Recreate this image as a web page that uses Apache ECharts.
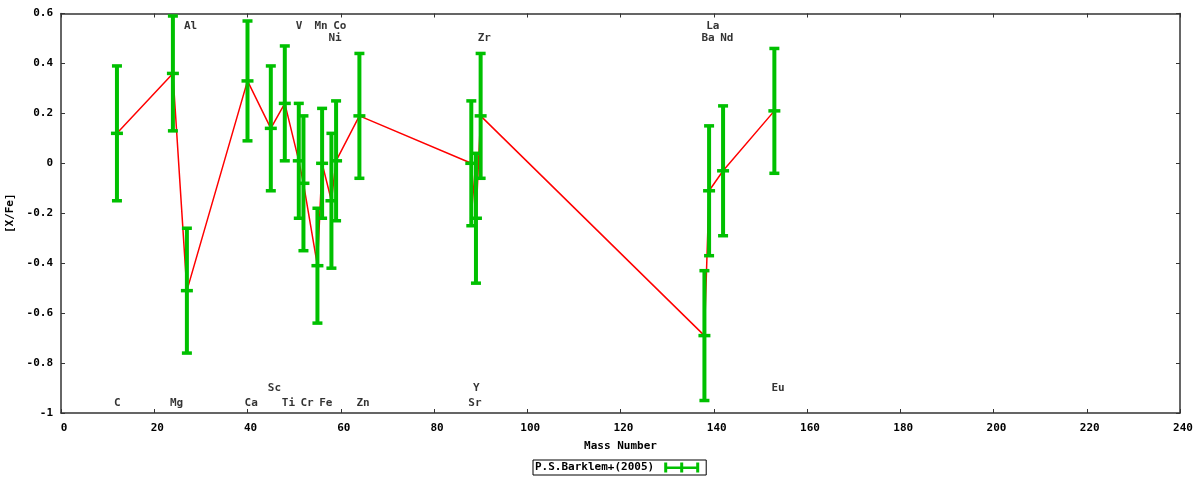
<!DOCTYPE html>
<html>
<head>
<meta charset="utf-8">
<script src="https://cdn.jsdelivr.net/npm/echarts@6/dist/echarts.min.js"></script>
<style>
  html, body { margin: 0; padding: 0; background: #fff; }
  #main { width: 1200px; height: 480px; }
</style>
</head>
<body>
<div id="main"></div>
<script>
// element data
const elements    = ['C', 'Mg', 'Al', 'Ca', 'Sc', 'Ti', 'V', 'Cr', 'Mn', 'Fe', 'Ni', 'Co', 'Zn', 'Sr', 'Y', 'Zr', 'Ba', 'La', 'Nd', 'Eu'];
const massNumbers = [12, 24, 27, 40, 45, 48, 51, 52, 55, 56, 58, 59, 64, 88, 89, 90, 138, 139, 142, 153];
const xFe         = [0.12, 0.36, -0.51, 0.33, 0.14, 0.24, 0.01, -0.08, -0.41, 0.00, -0.15, 0.01, 0.19, 0.00, -0.22, 0.19, -0.69, -0.11, -0.03, 0.21];
const xFeErr      = [0.27, 0.23, 0.25, 0.24, 0.25, 0.23, 0.23, 0.27, 0.23, 0.22, 0.27, 0.24, 0.25, 0.25, 0.26, 0.25, 0.26, 0.26, 0.26, 0.25];
// height at which each element name is written
const labelY      = [-0.96, -0.96, 0.55, -0.96, -0.9, -0.96, 0.55, -0.96, 0.55, -0.96, 0.5, 0.55, -0.96, -0.96, -0.9, 0.5, 0.5, 0.55, 0.5, -0.9];
const xTicks = { min: 0, max: 240, step: 20 };
const yTicks = { min: -1, max: 0.6, step: 0.2 };
const seriesName = 'P.S.Barklem+(2005)';

const FONT = 'DejaVu Sans Mono';
const GREEN = '#00c000';

const lineData = massNumbers.map((m, i) => [m, xFe[i]]);
const barData = massNumbers.map((m, i) => [m, xFe[i], xFe[i] - xFeErr[i], xFe[i] + xFeErr[i]]);
const labelData = elements.map((el, i) => ({ name: el, value: [massNumbers[i], labelY[i]] }));

function renderErrorBar(params, api) {
  const x = api.value(0);
  const mid = api.coord([x, api.value(1)]);
  const lo = api.coord([x, api.value(2)]);
  const hi = api.coord([x, api.value(3)]);
  const half = 5;
  const bar = { stroke: GREEN, lineWidth: 4 };
  const cap = { stroke: GREEN, lineWidth: 3.5 };
  const capAt = (y, h) => ({ type: 'line', shape: { x1: mid[0] - h, y1: y, x2: mid[0] + h, y2: y }, style: cap });
  return {
    type: 'group',
    children: [
      { type: 'line', shape: { x1: mid[0], y1: hi[1], x2: mid[0], y2: lo[1] }, style: bar },
      capAt(hi[1], half),
      capAt(lo[1], half),
      capAt(mid[1], half + 1)
    ]
  };
}

const axisCommon = {
  axisLine: { show: true, onZero: false, lineStyle: { color: '#333', width: 1.5 } },
  axisTick: { show: true, inside: true, length: 4, lineStyle: { color: '#333', width: 1 } },
  splitLine: { show: false }
};
const labelFont = { fontFamily: FONT, fontWeight: 'bold', fontSize: 11, color: '#000' };

const chart = echarts.init(document.getElementById('main'));
const option = {
  animation: false,
  backgroundColor: '#fff',
  grid: { left: 61, right: 20, top: 13.5, bottom: 67, outerBoundsMode: 'none' },
  legend: {
    data: [seriesName],
    left: 533,
    bottom: 5,
    align: 'right',
    itemWidth: 35,
    itemHeight: 10,
    padding: [2, 7, 2, 2],
    borderColor: '#000',
    borderWidth: 1,
    borderRadius: 0,
    icon: 'path://M0,4H35V6.5H0Z M0,0H3V10H0Z M32,0H35V10H32Z M16,0H19V10H16Z',
    textStyle: Object.assign({ padding: [0, 5, 0, 0] }, labelFont)
  },
  xAxis: [
    Object.assign({
      type: 'value', position: 'bottom',
      min: xTicks.min, max: xTicks.max, interval: xTicks.step,
      name: 'Mass Number', nameLocation: 'middle', nameGap: 28,
      nameTextStyle: labelFont,
      axisLabel: Object.assign({ margin: 10, padding: [0, 0, 0, 6] }, labelFont)
    }, axisCommon),
    Object.assign({
      type: 'value', position: 'top',
      min: xTicks.min, max: xTicks.max, interval: xTicks.step,
      axisLabel: { show: false }
    }, axisCommon)
  ],
  yAxis: [
    Object.assign({
      type: 'value', position: 'left',
      min: yTicks.min, max: yTicks.max, interval: yTicks.step,
      name: '[X/Fe]', nameLocation: 'middle', nameRotate: 90, nameGap: 44,
      nameTextStyle: labelFont,
      axisLabel: Object.assign({ margin: 8 }, labelFont)
    }, axisCommon),
    Object.assign({
      type: 'value', position: 'right',
      min: yTicks.min, max: yTicks.max, interval: yTicks.step,
      axisLabel: { show: false }
    }, axisCommon)
  ],
  series: [
    {
      name: 'trend',
      type: 'line',
      data: lineData,
      symbol: 'none',
      lineStyle: { color: '#ff0000', width: 1.5 },
      z: 2
    },
    {
      name: seriesName,
      type: 'custom',
      renderItem: renderErrorBar,
      data: barData,
      encode: { x: 0, y: [1, 2, 3] },
      itemStyle: { color: GREEN },
      z: 3
    },
    {
      name: 'elements',
      type: 'scatter',
      data: labelData,
      symbolSize: 0.1,
      itemStyle: { color: 'transparent' },
      label: {
        show: true,
        formatter: '{b}',
        position: 'right',
        distance: -3,
        align: 'left',
        verticalAlign: 'middle',
        fontFamily: FONT,
        fontWeight: 'bold',
        fontSize: 11,
        color: '#000'
      },
      silent: true,
      z: 4
    }
  ]
};
chart.setOption(option);
</script>
</body>
</html>
